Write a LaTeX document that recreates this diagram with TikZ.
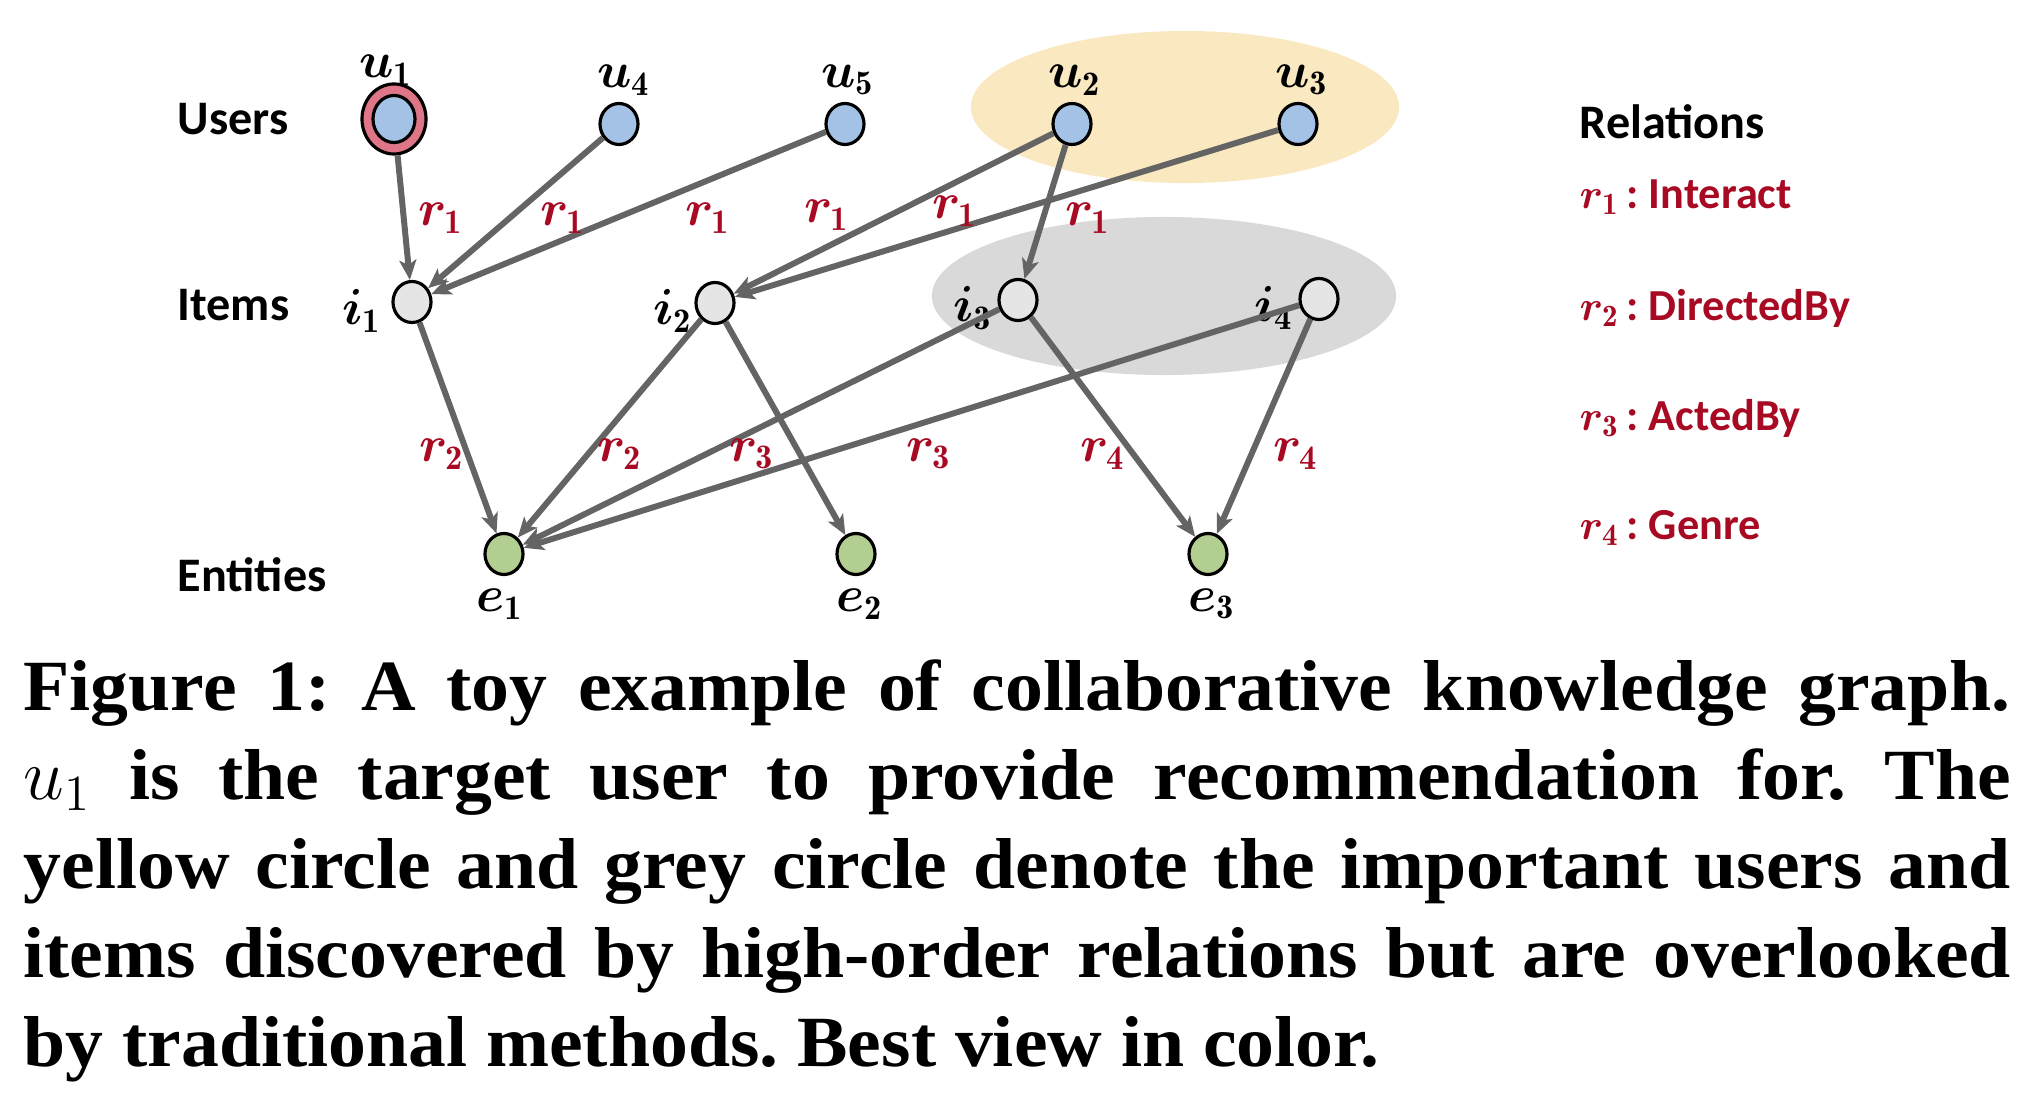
\documentclass[tikz,border=0pt]{standalone}
\usepackage{fontspec}
\usepackage{bm}
\usetikzlibrary{shapes.geometric,arrows.meta}
\newfontfamily\carlito{Carlito}
\newfontfamily\capfont[FakeStretch=1.05]{Liberation Serif}
\definecolor{ublue}{RGB}{164,194,229}
\definecolor{ipink}{RGB}{222,118,135}
\definecolor{igrey}{RGB}{230,229,230}
\definecolor{egreen}{RGB}{178,207,145}
\definecolor{ybg}{RGB}{250,232,192}
\definecolor{gbg}{RGB}{217,217,217}
\definecolor{edgegrey}{RGB}{100,100,100}
\definecolor{dred}{RGB}{168,10,35}
\newcommand\rl[1]{$\bm{r}_{\mathbf{#1}}$}
\newcommand\nl[2]{$\bm{#1}_{\mathbf{#2}}$}
\frenchspacing
\begin{document}
\begin{tikzpicture}[x=0.01cm,y=-0.01cm,
  rowlab/.style={font=\carlito\bfseries\fontsize{13.7}{16}\selectfont,anchor=west,inner sep=0},
  leglab/.style={font=\carlito\bfseries\fontsize{12.6}{15}\selectfont,text=dred,anchor=west,inner sep=0},
  nodebase/.style={ellipse,draw=black,line width=0.9pt,minimum width=0.38cm,minimum height=0.41cm,inner sep=0},
  usernode/.style={nodebase,fill=ublue},
  itemnode/.style={nodebase,fill=igrey},
  entnode/.style={nodebase,fill=egreen},
  nlab/.style={font=\fontsize{14}{16}\selectfont,inner sep=0},
  rlab/.style={font=\fontsize{14}{16}\selectfont,text=dred,inner sep=0},
  edge/.style={draw=edgegrey,line width=1.7pt,-{Stealth[length=0.2cm,width=0.17cm,inset=0.05cm]}},
  capline/.style={anchor=base west,inner sep=0,font=\capfont\bfseries\fontsize{20.5}{25}\selectfont}]
\useasboundingbox (0,0) rectangle (2030,1098);
% highlight ellipses
\fill[ybg] (1185,107) ellipse [x radius=2.14cm,y radius=0.76cm];
\fill[gbg] (1164,296) ellipse [x radius=2.32cm,y radius=0.79cm];
% row labels
\node[rowlab] (lusers) at (177,119) {Users};
\node[rowlab] (litems) at (177,305) {Items};
\node[rowlab] (lents) at (177,575) {Entities};
% legend
\node[rowlab] (lrel) at (1579,122) {Relations};
\node[leglab] (leg1) at (1579,197) {\rl{1}\,: Interact};
\node[leglab] (leg2) at (1579,308) {\rl{2}\,: DirectedBy};
\node[leglab] (leg3) at (1579,418) {\rl{3}\,: ActedBy};
\node[leglab] (leg4) at (1579,528) {\rl{4}\,: Genre};
% nodes
\node[nodebase,fill=ipink,minimum width=0.64cm,minimum height=0.70cm] (u1r) at (394,119) {};
\node[usernode,minimum width=0.42cm,minimum height=0.47cm] (u1) at (394,119) {};
\node[usernode] (u4) at (619,124) {};
\node[usernode] (u5) at (845,124) {};
\node[usernode] (u2) at (1072,124) {};
\node[usernode] (u3) at (1298,124) {};
\node[itemnode] (i1) at (412,302) {};
\node[itemnode] (i2) at (715,303) {};
\node[itemnode] (i3) at (1018,300) {};
\node[itemnode] (i4) at (1319,299) {};
\node[entnode] (e1) at (504,554) {};
\node[entnode] (e2) at (856,554) {};
\node[entnode] (e3) at (1208,554) {};
% node labels
\node[nlab] (tu1) at (386,70) {\nl{u}{1}};
\node[nlab] (tu4) at (624,80) {\nl{u}{4}};
\node[nlab] (tu5) at (848,80) {\nl{u}{5}};
\node[nlab] (tu2) at (1075,80) {\nl{u}{2}};
\node[nlab] (tu3) at (1302,80) {\nl{u}{3}};
\node[nlab] (ti1) at (362,311) {\nl{i}{1}};
\node[nlab] (ti2) at (673,311) {\nl{i}{2}};
\node[nlab] (ti3) at (973,308) {\nl{i}{3}};
\node[nlab] (ti4) at (1274,308) {\nl{i}{4}};
\node[nlab] (te1) at (500,604) {\nl{e}{1}};
\node[nlab] (te2) at (860,604) {\nl{e}{2}};
\node[nlab] (te3) at (1212,604) {\nl{e}{3}};
% edges
\draw[edge] (u1r) -- (i1);
\draw[edge] (u4) -- (i1);
\draw[edge] (u5) -- (i1);
\draw[edge] (u2) -- (i2);
\draw[edge] (u3) -- (i2);
\draw[edge] (u2) -- (i3);
\draw[edge] (i1) -- (e1);
\draw[edge] (i2) -- (e1);
\draw[edge] (i2) -- (e2);
\draw[edge] (i3) -- (e1);
\draw[edge] (i4) -- (e1);
\draw[edge] (i3) -- (e3);
\draw[edge] (i4) -- (e3);
% edge labels
\node[rlab] (r1a) at (441,218) {\rl{1}};
\node[rlab] (r1b) at (563,218) {\rl{1}};
\node[rlab] (r1c) at (708,218) {\rl{1}};
\node[rlab] (r1d) at (827,215) {\rl{1}};
\node[rlab] (r1e) at (955,211) {\rl{1}};
\node[rlab] (r1f) at (1088,218) {\rl{1}};
\node[rlab] (r2a) at (442,454) {\rl{2}};
\node[rlab] (r2b) at (620,454) {\rl{2}};
\node[rlab] (r3a) at (752,454) {\rl{3}};
\node[rlab] (r3b) at (929,454) {\rl{3}};
\node[rlab] (r4a) at (1103,454) {\rl{4}};
\node[rlab] (r4b) at (1296,454) {\rl{4}};
% caption
\node[capline] (c1) at (23,711) {\makebox[19.86cm][s]{Figure 1: A toy example of collaborative knowledge graph.}};
\node[capline] (c2) at (23,800) {\makebox[19.86cm][s]{{\mdseries$u_1$} is the target user to provide recommendation for. The}};
\node[capline] (c3) at (23,889) {\makebox[19.86cm][s]{yellow circle and grey circle denote the important users and}};
\node[capline] (c4) at (23,978) {\makebox[19.86cm][s]{items discovered by high-order relations but are overlooked}};
\node[capline] (c5) at (23,1067) {by traditional methods. Best view in color.};
\end{tikzpicture}
\end{document}
